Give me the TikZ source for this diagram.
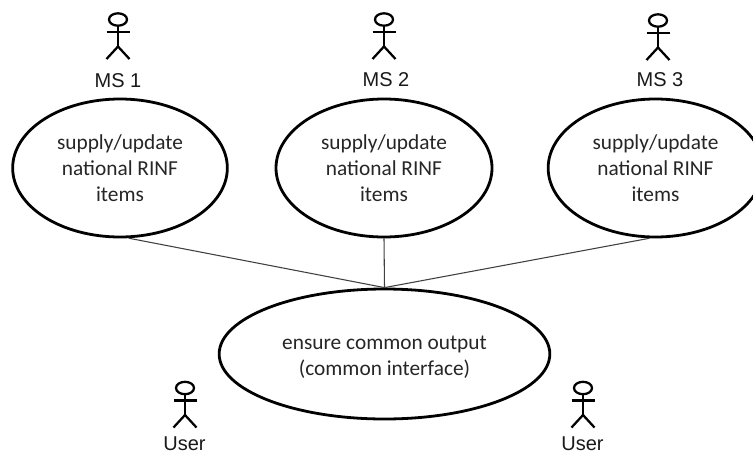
\documentclass[tikz,border=0pt]{standalone}
\usepackage{fontspec}
\setmainfont{Carlito}
\newfontfamily\arialf{Liberation Sans}
\usetikzlibrary{shapes.geometric}
\tikzset{
 usecase/.style={ellipse,draw=black,line width=2.1pt,inner sep=0pt,align=center,font=\fontsize{16pt}{19.5pt}\selectfont,text=black!85},
 conn/.style={draw=black!75,line width=0.8pt},
 actorlabel/.style={font=\arialf\fontsize{15pt}{18pt}\selectfont,inner sep=0pt,text=black!90},
 actorline/.style={draw=black,line width=1.7pt}
}
\newcommand{\stickman}[2]{%
 \begin{scope}[shift={(#1,#2)}]
  \draw[actorline] (0,0) ellipse [x radius=9,y radius=6.2];
  \draw[actorline] (0,-6.2) -- (0,-27);
  \draw[actorline] (-11.5,-12.5) -- (11.5,-12.5);
  \draw[actorline] (-11.5,-39.5) -- (0,-27) -- (11.5,-39.5);
 \end{scope}}
\begin{document}
\begin{tikzpicture}[x=0.75pt,y=0.75pt]
\useasboundingbox (0,0) rectangle (753,-454);
\fill[white] (0,0) rectangle (753,-454);
\stickman{118}{-19.5}
\stickman{384}{-19.5}
\stickman{658}{-20.5}
\stickman{185}{-388}
\stickman{583}{-388}
\node[actorlabel] (l1) at (118,-80.5) {MS 1};
\node[actorlabel] (l2) at (386,-79.5) {MS 2};
\node[actorlabel] (l3) at (660,-80) {MS 3};
\node[actorlabel] (u1) at (184.5,-444) {User};
\node[actorlabel] (u2) at (582.5,-444) {User};
\node[usecase,minimum width=161pt,minimum height=103.5pt] (a) at (120,-168) {supply/update\\national RINF\\items};
\node[usecase,minimum width=162pt,minimum height=103.5pt] (b) at (384,-168) {supply/update\\national RINF\\items};
\node[usecase,minimum width=161pt,minimum height=103.5pt] (c) at (655.5,-168) {supply/update\\national RINF\\items};
\node[usecase,minimum width=248pt,minimum height=97.5pt] (d) at (384.5,-354) {\rule{0pt}{15.5pt}ensure common output\\(common interface)};
\draw[conn] (a.-83.5) -- (d.north);
\draw[conn] (b.south) -- (d.north);
\draw[conn] (c.-95) -- (d.north);
\end{tikzpicture}
\end{document}
